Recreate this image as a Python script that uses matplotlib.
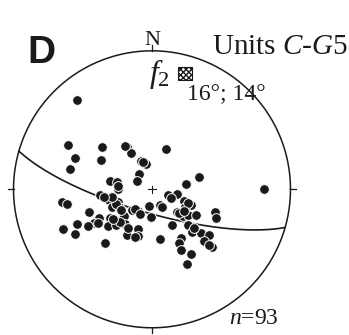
import numpy as np
import matplotlib
matplotlib.use("Agg")
import matplotlib.pyplot as plt

plt.rcParams["mathtext.fontset"] = "custom"
plt.rcParams["mathtext.rm"] = "Liberation Serif"
plt.rcParams["mathtext.it"] = "Liberation Serif:italic"

# Poles / lineations (lower hemisphere): trend and plunge in degrees
trend = [320, 298, 292, 284, 310, 300, 329, 330, 339, 347, 319, 301, 19, 75, 81, 90, 281, 281, 270, 276,
         264, 262, 256, 250, 246, 242, 248, 109, 101, 110, 112, 119, 111, 153, 190, 223, 212, 221, 182, 133,
         131, 126, 120, 132, 110, 114, 250, 242, 240, 240, 235, 226, 226, 245, 246, 240, 230, 225, 218, 225,
         209, 200, 196, 199, 221, 171, 151, 135, 137, 132, 129, 133, 149, 153, 154, 149, 155, 135, 134, 134,
         259, 261, 115, 232, 207, 124, 237, 211, 238, 342, 328, 260, 151]
plunge = [17, 32, 40, 39, 51, 55, 61, 65, 72, 75, 78, 80, 65, 61, 70, 20, 65, 69, 70, 70,
          59, 35, 64, 69, 64, 68, 67, 80, 75, 70, 65, 68, 67, 80, 80, 73, 75, 75, 74, 70,
          66, 64, 60, 69, 50, 48, 50, 54, 50, 46, 60, 65, 67, 40, 30, 36, 56, 60, 64, 63,
          59, 65, 61, 60, 47, 60, 66, 60, 55, 51, 46, 56, 56, 54, 50, 45, 40, 46, 40, 42,
          66, 61, 78, 61, 74, 67, 68, 63, 52, 73, 60, 38, 78]

# Fold axis f2 (trend; plunge)
f2_trend, f2_plunge = 16, 14
panel_label = "D"
title = r"Units $\mathit{C}$-$\mathit{G5}$"
f2_label = r"$\mathit{f}_{2}$"
f2_text = "16°; 14°"
n_text = r"$\mathit{n}$=93"


def project(t, p):
    """Lambert equal-area (Schmidt) lower-hemisphere projection."""
    t = np.radians(np.asarray(t, float))
    p = np.radians(np.asarray(p, float))
    r = np.sqrt(2) * np.sin((np.pi / 2 - p) / 2)
    return r * np.sin(t), r * np.cos(t)


def vec_to_tp(v):
    v = np.asarray(v, float)
    v = np.where(v[2] > 0, -v, v)
    t = np.degrees(np.arctan2(v[0], v[1])) % 360
    p = np.degrees(np.arcsin(np.clip(-v[2], -1, 1)))
    return t, p


W, H = 349, 335
CX, CY, RPX = 152.0, 189.3, 138.5

fig = plt.figure(figsize=(W / 100, H / 100), dpi=100)
ax = fig.add_axes([0, 0, 1, 1])
ax.set_xlim(-CX / RPX, (W - CX) / RPX)
ax.set_ylim(-(H - CY) / RPX, CY / RPX)
ax.set_aspect("equal")
ax.axis("off")

ink = "#1a1a1a"
# primitive circle
th = np.linspace(0, 2 * np.pi, 400)
ax.plot(np.cos(th), np.sin(th), color=ink, lw=1.1, zorder=2)
# cardinal ticks
for a in (0, 90, 180, 270):
    s, c = np.sin(np.radians(a)), np.cos(np.radians(a))
    ax.plot([s * 1.0, s * 1.04], [c * 1.0, c * 1.04], color=ink, lw=0.9, zorder=2)
# centre cross
cl = 0.027
ax.plot([-cl, cl], [0, 0], color=ink, lw=0.8, zorder=2)
ax.plot([0, 0], [-cl, cl], color=ink, lw=0.8, zorder=2)

# great circle perpendicular to f2
pt, pp = np.radians(f2_trend), np.radians(f2_plunge)
nvec = np.array([np.cos(pp) * np.sin(pt), np.cos(pp) * np.cos(pt), -np.sin(pp)])
svec = np.array([np.sin(pt + np.pi / 2), np.cos(pt + np.pi / 2), 0.0])
dvec = np.cross(nvec, svec)
if dvec[2] > 0:
    dvec = -dvec
tt = np.linspace(0, np.pi, 300)
vs = np.outer(np.cos(tt), svec) + np.outer(np.sin(tt), dvec)
gt, gp = vec_to_tp(vs.T)
gx, gy = project(gt, gp)
ax.plot(gx, gy, color=ink, lw=1.2, zorder=3)

# data points
px, py = project(trend, plunge)
ax.plot(px, py, "o", ms=7.0, mfc=ink, mec="white", mew=0.7, ls="none", zorder=4)

# f2 symbol
fx, fy = project(f2_trend, f2_plunge)
ax.scatter([fx], [fy], marker="s", s=95, facecolor="white", edgecolor=ink,
           hatch="xxxxxx", linewidth=0.8, zorder=5)


def fp(x, y):
    return x / W, 1 - y / H


ax.text(*fp(27, 63), panel_label, transform=ax.transAxes, fontsize=28, fontweight="bold",
        family="Liberation Sans", color=ink, ha="left", va="baseline")
ax.text(*fp(152, 45), "N", transform=ax.transAxes, fontsize=16, family="Liberation Serif",
        color=ink, ha="center", va="baseline")
ax.text(*fp(212, 54), title, transform=ax.transAxes, fontsize=21, family="Liberation Serif",
        color=ink, ha="left", va="baseline")
ax.text(*fp(149, 82), f2_label, transform=ax.transAxes, fontsize=23, family="Liberation Serif",
        color=ink, ha="left", va="baseline")
ax.text(*fp(187, 100.5), f2_text, transform=ax.transAxes, fontsize=17, family="Liberation Serif",
        color=ink, ha="left", va="baseline")
ax.text(*fp(229, 324), n_text, transform=ax.transAxes, fontsize=17, family="Liberation Serif",
        color=ink, ha="left", va="baseline")

fig.savefig("out.png", dpi=100)
